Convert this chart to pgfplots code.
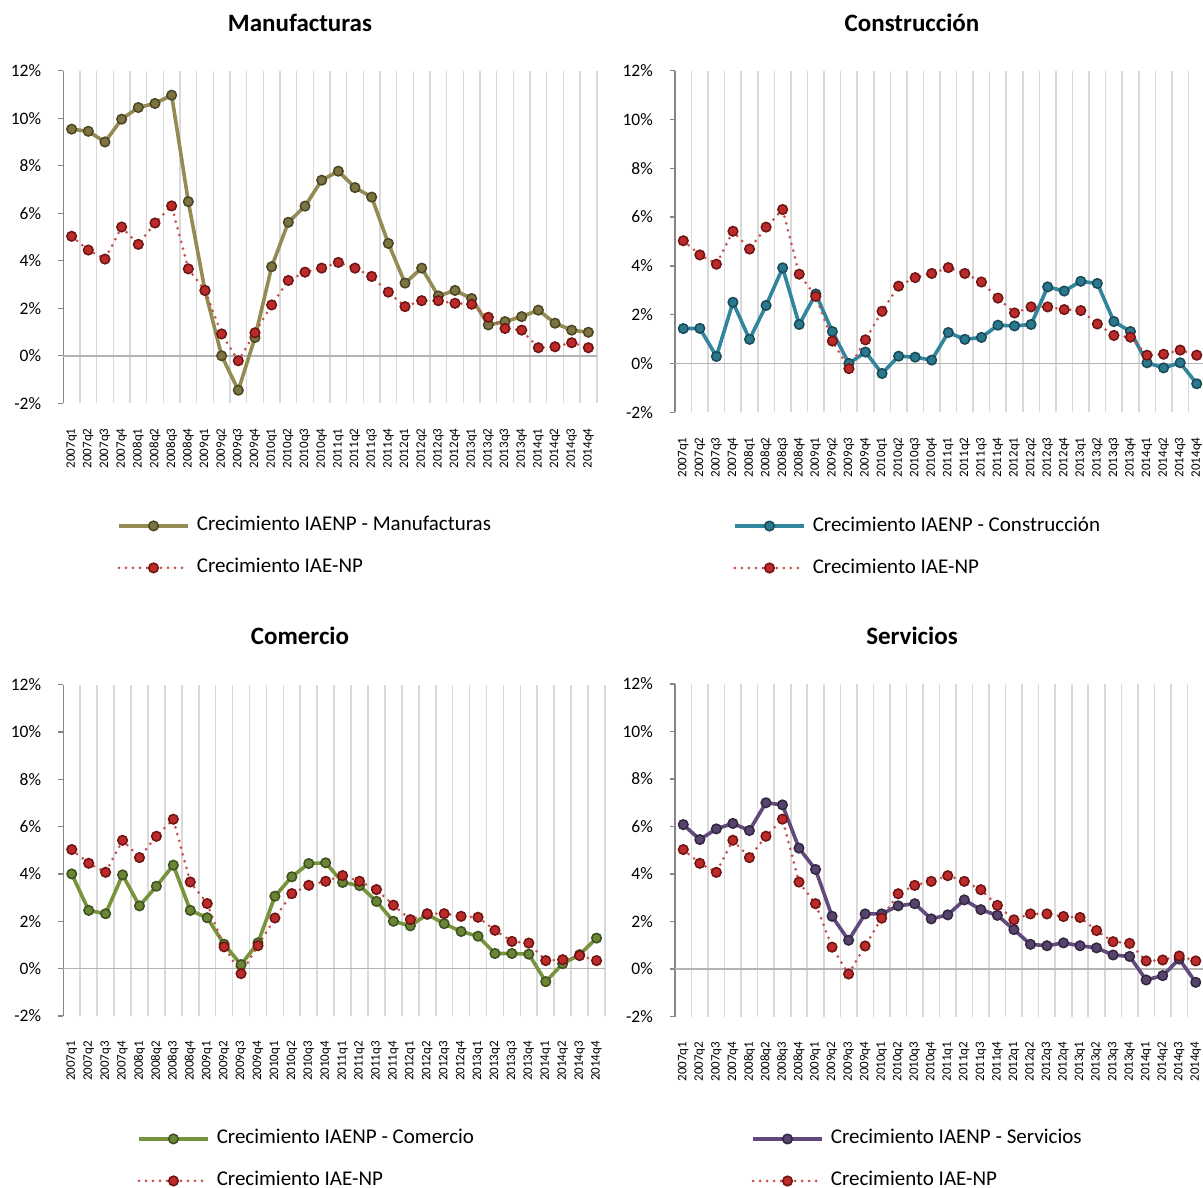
\documentclass[border=0pt]{standalone}
\usepackage{fontspec}
\setmainfont{Carlito}
\usepackage{pgfplots}
\usepackage{pgfplotstable}
\pgfplotsset{compat=1.18}

\definecolor{gridgray}{HTML}{D9D9D9}
\definecolor{axisgray}{HTML}{868686}
\definecolor{zerogray}{HTML}{B3B3B3}
\definecolor{manuline}{HTML}{948A54}
\definecolor{manufill}{HTML}{7D7442}
\definecolor{manuedge}{HTML}{4A4524}
\definecolor{consline}{HTML}{31859C}
\definecolor{consfill}{HTML}{2A788D}
\definecolor{consedge}{HTML}{1A4A57}
\definecolor{comeline}{HTML}{77933C}
\definecolor{comefill}{HTML}{6A8535}
\definecolor{comeedge}{HTML}{3D501F}
\definecolor{servline}{HTML}{604A7B}
\definecolor{servfill}{HTML}{56436E}
\definecolor{servedge}{HTML}{32273F}
\definecolor{iaeline}{HTML}{C9504D}
\definecolor{iaefill}{HTML}{BC2B2A}
\definecolor{iaeedge}{HTML}{6E1513}

\pgfplotstableread{
x manu cons come serv iae
0 9.54 1.43 4.00 6.08 5.03
1 9.45 1.44 2.46 5.45 4.45
2 9.00 0.29 2.32 5.90 4.07
3 9.96 2.51 3.96 6.13 5.42
4 10.45 0.99 2.65 5.83 4.69
5 10.62 2.38 3.48 7.00 5.59
6 10.97 3.92 4.37 6.91 6.31
7 6.49 1.60 2.46 5.09 3.66
8 2.75 2.85 2.15 4.19 2.75
9 0.00 1.31 1.03 2.22 0.92
10 -1.45 0.00 0.17 1.21 -0.21
11 0.77 0.47 1.09 2.32 0.97
12 3.75 -0.41 3.06 2.32 2.14
13 5.62 0.30 3.88 2.66 3.17
14 6.30 0.26 4.44 2.75 3.52
15 7.39 0.14 4.47 2.11 3.69
16 7.77 1.27 3.64 2.28 3.93
17 7.08 0.99 3.51 2.91 3.69
18 6.68 1.07 2.84 2.50 3.34
19 4.73 1.57 2.00 2.26 2.68
20 3.06 1.54 1.81 1.66 2.07
21 3.69 1.60 2.29 1.04 2.32
22 2.52 3.14 1.90 0.98 2.32
23 2.75 2.97 1.57 1.10 2.21
24 2.41 3.37 1.37 0.98 2.17
25 1.30 3.28 0.64 0.89 1.62
26 1.44 1.72 0.64 0.59 1.15
27 1.65 1.31 0.61 0.53 1.08
28 1.92 0.03 -0.55 -0.46 0.34
29 1.37 -0.18 0.21 -0.28 0.38
30 1.08 0.03 0.59 0.42 0.55
31 0.99 -0.83 1.29 -0.56 0.34
}\data

\pgfplotsset{
  panel/.style={
    scale only axis,
    xmin=-0.5, xmax=31.5, ymin=-2, ymax=12,
    axis y line*=left, axis x line*=bottom,
    x axis line style={draw=none},
    y axis line style={color=axisgray, line width=1.3pt},
    tick align=outside,
    major tick length=5pt,
    minor tick length=0pt,
    ytick={-2,0,2,4,6,8,10,12},
    yticklabels={{-2\%},{0\%},{2\%},{4\%},{6\%},{8\%},{10\%},{12\%}},
    ytick style={color=axisgray, line width=1.3pt},
    xtick style={draw=none},
    xtick={0,...,31},
    xticklabels={2007q1,2007q2,2007q3,2007q4,2008q1,2008q2,2008q3,2008q4,2009q1,2009q2,2009q3,2009q4,2010q1,2010q2,2010q3,2010q4,2011q1,2011q2,2011q3,2011q4,2012q1,2012q2,2012q3,2012q4,2013q1,2013q2,2013q3,2013q4,2014q1,2014q2,2014q3,2014q4},
    minor xtick={0.5,1.5,...,31.5},
    xminorgrids=true,
    minor x grid style={color=gridgray, line width=1.6pt},
    extra y ticks={0},
    extra y tick labels={},
    extra y tick style={ymajorgrids=true, major grid style={color=zerogray, line width=1.5pt}},
    yticklabel style={font=\fontsize{17.5}{20}\selectfont, inner sep=0pt, anchor=east},
    yticklabel shift=17pt,
    xticklabel style={font=\fontsize{13}{15}\selectfont, rotate=90, anchor=east, inner sep=0pt},
    xticklabel shift=20pt,
    legend cell align=left,
    legend style={draw=none, fill=none, inner sep=0pt, anchor=north west,
      font=\fontsize{21}{25}\selectfont, row sep=22pt, column sep=7pt,
      nodes={inner sep=0pt, text height=15pt, text depth=5pt}},
    legend image code/.code={\draw[mark repeat=2,mark phase=2,##1] plot coordinates {(0pt,0pt) (34.5pt,0pt) (69pt,0pt)};},
  },
  sector/.style={line width=3.6pt, mark=*, mark size=4.8pt, line join=round},
  iae/.style={color=iaeline, line width=3pt, line cap=round, dash pattern=on 0pt off 7pt,
    mark=*, mark size=4.8pt, mark options={solid, fill=iaefill, draw=iaeedge, line width=1.5pt}},
}

\begin{document}
\begin{tikzpicture}
\useasboundingbox (0pt,0pt) rectangle (1203pt,-1188pt);
\fill[white] (0pt,0pt) rectangle (1203pt,-1188pt);

% Panel 1
\begin{axis}[panel, at={(63.3pt,-403.3pt)}, anchor=south west, width=533.4pt, height=332.6pt,
  legend style={at={(axis description cs:0.1007,-0.338)}}]
\addplot[sector, color=manuline, mark options={solid, fill=manufill, draw=manuedge, line width=1.5pt}] table[x=x,y=manu]{\data};
\addlegendentry{Crecimiento IAENP - Manufacturas}
\addplot[iae] table[x=x,y=iae]{\data};
\addlegendentry{Crecimiento IAE-NP}
\end{axis}

% Panel 2
\begin{axis}[panel, at={(675pt,-412.3pt)}, anchor=south west, width=530pt, height=341.6pt,
  legend style={at={(axis description cs:0.1094,-0.303)}}]
\addplot[sector, color=consline, mark options={solid, fill=consfill, draw=consedge, line width=1.5pt}] table[x=x,y=cons]{\data};
\addlegendentry{Crecimiento IAENP - Construcción}
\addplot[iae] table[x=x,y=iae]{\data};
\addlegendentry{Crecimiento IAE-NP}
\end{axis}

% Panel 3
\begin{axis}[panel, at={(63.3pt,-1016pt)}, anchor=south west, width=541.7pt, height=331.5pt,
  legend style={at={(axis description cs:0.136,-0.340)}}]
\addplot[sector, color=comeline, mark options={solid, fill=comefill, draw=comeedge, line width=1.5pt}] table[x=x,y=come]{\data};
\addlegendentry{Crecimiento IAENP - Comercio}
\addplot[iae] table[x=x,y=iae]{\data};
\addlegendentry{Crecimiento IAE-NP}
\end{axis}

% Panel 4
\begin{axis}[panel, at={(675pt,-1016.5pt)}, anchor=south west, width=529pt, height=332.5pt,
  legend style={at={(axis description cs:0.1437,-0.3377)}}]
\addplot[sector, color=servline, mark options={solid, fill=servfill, draw=servedge, line width=1.5pt}] table[x=x,y=serv]{\data};
\addlegendentry{Crecimiento IAENP - Servicios}
\addplot[iae] table[x=x,y=iae]{\data};
\addlegendentry{Crecimiento IAE-NP}
\end{axis}

\node[font=\fontsize{25}{30}\selectfont\bfseries, anchor=base] at (300pt,-31.7pt) {Manufacturas};
\node[font=\fontsize{25}{30}\selectfont\bfseries, anchor=base] at (912pt,-31.7pt) {Construcción};
\node[font=\fontsize{25}{30}\selectfont\bfseries, anchor=base] at (300pt,-644.7pt) {Comercio};
\node[font=\fontsize{25}{30}\selectfont\bfseries, anchor=base] at (912pt,-644.7pt) {Servicios};
\end{tikzpicture}
\end{document}
